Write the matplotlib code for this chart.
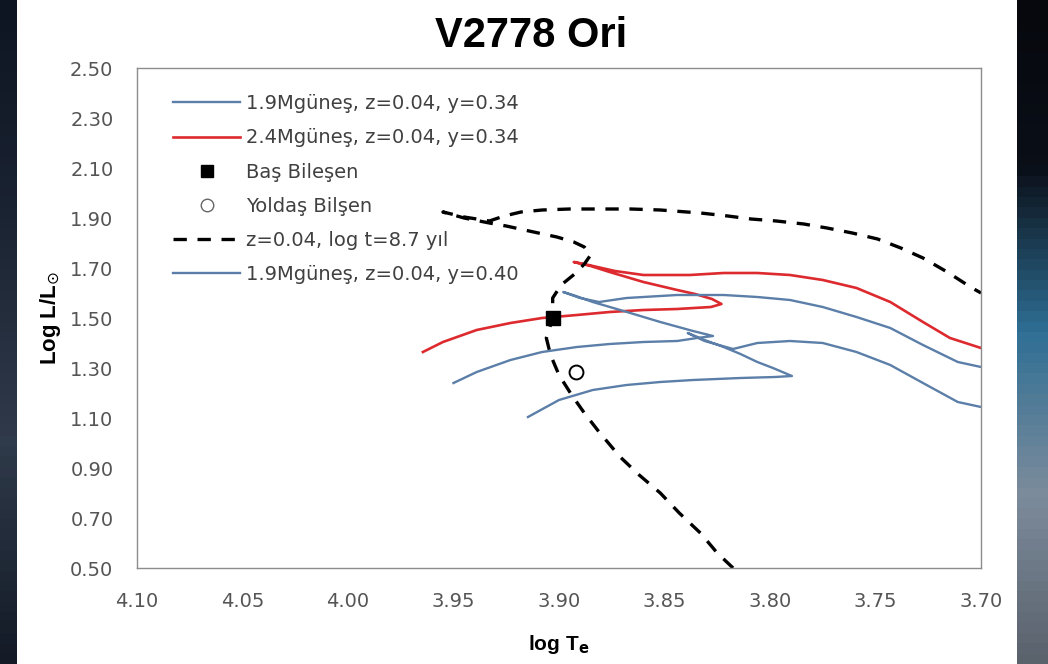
"""HR diagram of V2778 Ori with evolutionary tracks and an isochrone."""

import matplotlib

matplotlib.use("Agg")
import matplotlib.pyplot as plt
import numpy as np
from matplotlib.lines import Line2D

# 1.9 Msun, z=0.04, y=0.34 track (log Te, log L)
trk19a_logt = [3.9147, 3.900, 3.884, 3.868, 3.852, 3.8365, 3.814, 3.7976, 3.7896,
               3.7986, 3.806, 3.814, 3.822, 3.831, 3.839,
               3.831, 3.8175, 3.806, 3.7905, 3.775, 3.759, 3.743, 3.7275, 3.711, 3.700]
trk19a_logl = [1.104, 1.172, 1.212, 1.232, 1.244, 1.252, 1.260, 1.264, 1.268,
               1.300, 1.324, 1.356, 1.384, 1.412, 1.440,
               1.408, 1.376, 1.400, 1.408, 1.400, 1.364, 1.312, 1.240, 1.164, 1.144]

# 2.4 Msun, z=0.04, y=0.34 track
trk24_logt = [3.9645, 3.955, 3.939, 3.923, 3.908, 3.8915, 3.876, 3.860, 3.844, 3.828, 3.823,
              3.8275, 3.8355, 3.844, 3.860, 3.876, 3.885, 3.893,
              3.886, 3.8735, 3.860, 3.838, 3.822, 3.806, 3.7905, 3.775, 3.759, 3.743,
              3.7275, 3.7147, 3.700]
trk24_logl = [1.364, 1.404, 1.452, 1.480, 1.500, 1.512, 1.524, 1.532, 1.536, 1.544, 1.556,
              1.576, 1.596, 1.612, 1.644, 1.684, 1.708, 1.724,
              1.712, 1.688, 1.672, 1.672, 1.680, 1.680, 1.672, 1.652, 1.620, 1.564,
              1.484, 1.420, 1.380]

# 1.9 Msun, z=0.04, y=0.40 track
trk19b_logt = [3.950, 3.939, 3.923, 3.908, 3.8915, 3.876, 3.860, 3.844, 3.8346, 3.827,
               3.8365, 3.852, 3.8678, 3.884, 3.892, 3.898,
               3.890, 3.881, 3.868, 3.844, 3.822, 3.806, 3.7905, 3.775, 3.759, 3.743,
               3.7275, 3.711, 3.700]
trk19b_logl = [1.240, 1.284, 1.332, 1.364, 1.384, 1.396, 1.404, 1.408, 1.420, 1.428,
               1.448, 1.484, 1.524, 1.564, 1.588, 1.604,
               1.580, 1.564, 1.580, 1.592, 1.592, 1.584, 1.572, 1.544, 1.504, 1.460,
               1.392, 1.324, 1.304]

# isochrone z=0.04, log t = 8.7
iso_logt = [3.8175, 3.825, 3.833, 3.843, 3.852, 3.862, 3.871, 3.881, 3.888, 3.894, 3.900,
            3.904, 3.906, 3.903, 3.903, 3.899, 3.892, 3.888, 3.885, 3.888, 3.893, 3.901,
            3.912, 3.925, 3.933, 3.945, 3.955, 3.945, 3.933, 3.926, 3.918, 3.908, 3.895,
            3.881, 3.866, 3.852, 3.833, 3.820, 3.809, 3.797, 3.784, 3.773, 3.761, 3.749,
            3.738, 3.7275, 3.716, 3.705, 3.700]
iso_logl = [0.500, 0.560, 0.640, 0.720, 0.800, 0.872, 0.944, 1.044, 1.120, 1.192, 1.272,
            1.352, 1.420, 1.500, 1.580, 1.632, 1.680, 1.716, 1.752, 1.784, 1.804, 1.824,
            1.844, 1.868, 1.880, 1.900, 1.924, 1.904, 1.888, 1.908, 1.924, 1.932, 1.936,
            1.936, 1.936, 1.932, 1.920, 1.908, 1.896, 1.888, 1.876, 1.860, 1.840, 1.816,
            1.780, 1.740, 1.684, 1.624, 1.600]

# binary components
primary = (3.903, 1.50)
secondary = (3.892, 1.284)

labels = [
    "1.9Mgüneş, z=0.04, y=0.34",
    "2.4Mgüneş, z=0.04, y=0.34",
    "Baş Bileşen",
    "Yoldaş Bilşen",
    "z=0.04, log t=8.7 yıl",
    "1.9Mgüneş, z=0.04, y=0.40",
]
x_ticks = [4.10, 4.05, 4.00, 3.95, 3.90, 3.85, 3.80, 3.75, 3.70]
y_ticks = [0.50, 0.70, 0.90, 1.10, 1.30, 1.50, 1.70, 1.90, 2.10, 2.30, 2.50]

BLUE = "#5b7fa8"
RED = "#dc2a2e"
TEXT_FONT = ["DejaVu Sans"]
BOLD_FONT = ["Liberation Sans", "DejaVu Sans"]
ISO_DASH = (0, (4, 3.2))

W, H = 1048, 664
fig = plt.figure(figsize=(W / 100, H / 100), dpi=100, facecolor="white")

# dark side strips of the slide background
grad = np.linspace(0, 1, 64)[:, None]
left = fig.add_axes([0, 0, 17 / W, 1])
left.imshow(grad, aspect="auto", cmap=matplotlib.colors.LinearSegmentedColormap.from_list(
    "l", ["#0e1522", "#1b2433", "#2f3a4a", "#141b27"]))
left.set_axis_off()
right = fig.add_axes([1017 / W, 0, (W - 1017) / W, 1])
right.imshow(grad, aspect="auto", cmap=matplotlib.colors.LinearSegmentedColormap.from_list(
    "r", ["#06080d", "#0a0f18", "#2f6f95", "#7d8c9c", "#5a626c"]))
right.set_axis_off()

ax = fig.add_axes([137 / W, 1 - 568 / H, 844 / W, 500 / H])

ax.plot(trk19a_logt, trk19a_logl, color=BLUE, linewidth=1.7, solid_joinstyle="round")
ax.plot(trk24_logt, trk24_logl, color=RED, linewidth=1.9, solid_joinstyle="round")
ax.plot(iso_logt, iso_logl, color="black", linewidth=2.4, linestyle=ISO_DASH)
ax.plot(trk19b_logt, trk19b_logl, color=BLUE, linewidth=1.7, solid_joinstyle="round")
ax.plot(*primary, marker="s", markersize=10, color="black", linestyle="none", zorder=5)
ax.plot(*secondary, marker="o", markersize=10, markerfacecolor="white",
        markeredgecolor="black", markeredgewidth=1.4, linestyle="none", zorder=5)

ax.set_xlim(4.10, 3.70)
ax.set_ylim(0.50, 2.50)
ax.set_xticks(x_ticks)
ax.set_yticks(y_ticks)
ax.set_xticklabels([f"{v:.2f}" for v in x_ticks])
ax.set_yticklabels([f"{v:.2f}" for v in y_ticks])
ax.tick_params(length=0, labelsize=14, labelcolor="#555555")
ax.tick_params(axis="x", pad=17)
ax.tick_params(axis="y", pad=17)
for lab in ax.get_xticklabels() + ax.get_yticklabels():
    lab.set_family(TEXT_FONT)
for spine in ax.spines.values():
    spine.set_color("#8c8c8c")
    spine.set_linewidth(1.0)

ax.set_xlabel(r"log T$_{\mathbf{e}}$", fontsize=15, fontweight="bold", family=BOLD_FONT,
              labelpad=16)
ax.set_ylabel(r"Log L/L$_{\odot}$", fontsize=16, fontweight="bold", family=BOLD_FONT,
              labelpad=5)

fig.text(531 / W, 1 - 36 / H, "V2778 Ori", ha="center", va="center", fontsize=30,
         fontweight="bold", family=BOLD_FONT)

handles = [
    Line2D([], [], color=BLUE, linewidth=1.7),
    Line2D([], [], color=RED, linewidth=1.9),
    Line2D([], [], marker="s", color="black", linestyle="none", markersize=9),
    Line2D([], [], marker="o", markerfacecolor="white", markeredgecolor="#666666",
           linestyle="none", markersize=9),
    Line2D([], [], color="black", linewidth=2.4, linestyle=ISO_DASH),
    Line2D([], [], color=BLUE, linewidth=1.7),
]
ax.legend(handles, labels, loc="upper left", bbox_to_anchor=(0.034, 0.963), frameon=False,
          borderaxespad=0, handlelength=3.4, handletextpad=0.35, labelspacing=0.78,
          prop={"family": TEXT_FONT, "size": 14}, labelcolor="#404040", numpoints=1)

fig.savefig("out.png", dpi=100, facecolor=fig.get_facecolor())
